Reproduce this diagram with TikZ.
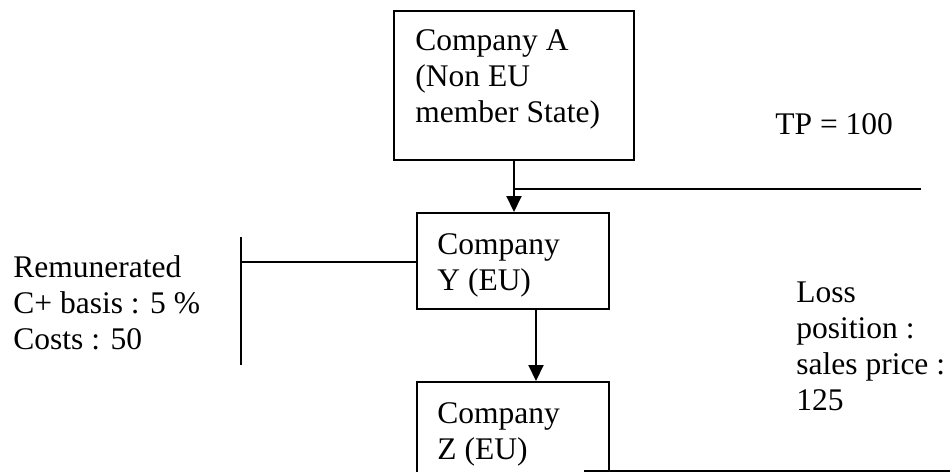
\documentclass[tikz,border=0pt]{standalone}
\usepackage{fontspec}
\setmainfont{Liberation Serif}
\usetikzlibrary{arrows.meta}
\begin{document}
\begin{tikzpicture}[x=0.5pt,y=-0.5pt,
  box/.style={draw,line width=1pt,inner sep=0pt,anchor=north west},
  lbl/.style={anchor=base west,inner sep=0pt,align=left,font=\fontsize{15.75}{18}\selectfont},
  conn/.style={line width=1pt},
  arr/.style={conn,-{Triangle[length=8pt,width=7.5pt]}}]
\useasboundingbox (0,0) rectangle (950,472);
\clip (0,0) rectangle (950,472);
% boxes
\node[box,minimum width=120pt,minimum height=74.5pt] (A) at (393,10) {};
\node[box,minimum width=96pt,minimum height=48pt] (Y) at (416,212) {};
\node[box,minimum width=96pt,minimum height=60pt] (Z) at (416,381) {};
% texts (anchor = baseline of the last line)
\node[lbl] (tA) at (415,122) {Company A\\(Non EU\\member State)};
\node[lbl] (tY) at (437,290) {Company\\Y (EU)};
\node[lbl] (tZ) at (437,459) {Company\\Z (EU)};
\node[lbl] (tTP) at (775,134) {TP = 100};
\node[lbl] (tRem) at (13,349) {Remunerated\\C+ basis : 5 \%\\Costs : 50};
\node[lbl] (tLoss) at (796,410) {Loss\\position :\\sales price :\\125};
% coordinates
\coordinate (tpEnd) at (921,189);
\coordinate (yzX) at (536,0);
\coordinate (brTop) at (241,237);
\coordinate (brBot) at (241,365);
\coordinate (brMid) at (241,262);
\coordinate (botStart) at (584,471);
\coordinate (botEnd) at (950,471);
% connectors
\draw[arr] (A.south) -- (A.south |- Y.north);
\draw[conn] (A.south |- tpEnd) -- (tpEnd);
\draw[arr] (Y.south -| yzX) -- (Z.north -| yzX);
\draw[conn] (brTop) -- (brBot);
\draw[conn] (brMid) -- (Y.west |- brMid);
\draw[conn] (botStart) -- (botEnd);
\end{tikzpicture}
\end{document}
